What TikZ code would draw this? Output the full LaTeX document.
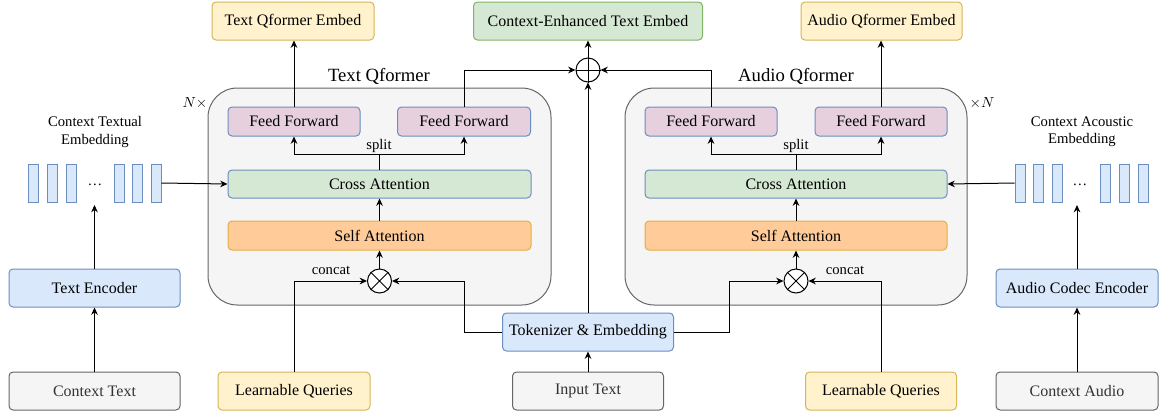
\documentclass[tikz,border=0pt]{standalone}
\usepackage{fontspec}
\setmainfont{Liberation Serif}
\usetikzlibrary{arrows.meta,calc}
\definecolor{blueF}{HTML}{DAE8FC}\definecolor{blueD}{HTML}{6C8EBF}
\definecolor{greenF}{HTML}{D5E8D4}\definecolor{greenD}{HTML}{82B366}
\definecolor{yelF}{HTML}{FFF2CC}\definecolor{yelD}{HTML}{D6B656}
\definecolor{orF}{HTML}{FFCC99}\definecolor{orD}{HTML}{E0B040}
\definecolor{pinkF}{HTML}{E6D0DE}
\definecolor{grayF}{HTML}{F5F5F5}\definecolor{grayD}{HTML}{666666}
\definecolor{grayT}{HTML}{333333}
\begin{document}
\begin{tikzpicture}[x=0.75pt,y=-0.75pt,
  box/.style={draw, rounded corners=3pt, line width=0.75pt, inner sep=0pt, align=center,
    font=\fontsize{12}{14}\selectfont},
  w/.style={minimum width=#1*0.75pt},
  h/.style={minimum height=#1*0.75pt},
  bluebox/.style={box, fill=blueF, draw=blueD},
  greenbox/.style={box, fill=greenF, draw=greenD},
  yelbox/.style={box, fill=yelF, draw=yelD},
  orbox/.style={box, fill=orF, draw=orD},
  pinkbox/.style={box, fill=pinkF, draw=blueD},
  ctxbox/.style={box, fill=grayF, draw=grayD, text=grayT},
  cabox/.style={box, fill=greenF, draw=blueD},
  container/.style={draw=grayD, fill=grayF, rounded corners=22pt, line width=0.75pt},
  bar/.style={draw=blueD, fill=blueF, line width=0.75pt, minimum width=10*0.75pt, minimum height=38*0.75pt, inner sep=0pt},
  opcirc/.style={circle, draw, fill=white, line width=0.75pt, minimum size=24*0.75pt, inner sep=0pt},
  arr/.style={draw, line width=0.75pt, -{Stealth[length=5.5pt,width=5pt,inset=1.8pt]}},
  ln/.style={draw, line width=0.75pt},
  lbl/.style={font=\fontsize{11}{13}\selectfont, align=center, inner sep=0pt},
  title/.style={font=\fontsize{14}{16}\selectfont, inner sep=0pt}
]
\useasboundingbox (0,0) rectangle (1161,412);

% containers
\draw[container] (208,88) rectangle (551,305);
\draw[container] (625,88) rectangle (967,305);
\node[title] (tqt) at (379,76) {Text Qformer};
\node[title] (aqt) at (796,76) {Audio Qformer};
\node[lbl] (tn) at (195,103) {$N\times$};
\node[lbl] (an) at (982,103) {$\times N$};

% top outputs
\node[yelbox, w=162, h=38] (tqe) at (293,21) {Text Qformer Embed};
\node[greenbox, w=229, h=38] (ce) at (588,21) {Context-Enhanced Text Embed};
\node[yelbox, w=161, h=38] (aqe) at (881.5,21) {Audio Qformer Embed};

% text qformer internals
\node[pinkbox, w=132, h=29] (tff1) at (294,121.5) {Feed Forward};
\node[pinkbox, w=133, h=29] (tff2) at (464,121.5) {Feed Forward};
\node[cabox, w=303, h=28] (tca) at (379.5,184) {Cross Attention};
\node[orbox, w=303, h=29] (tsa) at (379.5,235.5) {Self Attention};
\node[opcirc] (tc) at (379.5,281) {};
\draw[line width=0.75pt] (tc.north west) -- (tc.south east) (tc.north east) -- (tc.south west);

% audio qformer internals
\node[pinkbox, w=132, h=29] (aff1) at (711,121.5) {Feed Forward};
\node[pinkbox, w=132, h=29] (aff2) at (881,121.5) {Feed Forward};
\node[cabox, w=302, h=28] (aca) at (796,184) {Cross Attention};
\node[orbox, w=302, h=29] (asa) at (796,235.5) {Self Attention};
\node[opcirc] (ac) at (796,281) {};
\draw[line width=0.75pt] (ac.north west) -- (ac.south east) (ac.north east) -- (ac.south west);

% oplus
\node[opcirc] (op) at (588,70) {};
\draw[line width=0.75pt] (op.north) -- (op.south) (op.west) -- (op.east);

% bottom inputs
\node[bluebox, w=171, h=38] (tok) at (588,332) {Tokenizer \& Embedding};
\node[yelbox, w=152, h=38] (lq1) at (294,391) {Learnable Queries};
\node[yelbox, w=151, h=38] (lq2) at (881,391) {Learnable Queries};
\node[ctxbox, w=151, h=38] (it) at (588,391) {Input Text};
\node[ctxbox, w=171, h=38] (ct) at (94.5,391) {Context Text};
\node[bluebox, w=171, h=38] (te) at (94.5,288) {Text Encoder};
\node[ctxbox, w=162, h=38] (ca) at (1077,391) {Context Audio};
\node[bluebox, w=162, h=38] (ace) at (1077,288) {Audio Codec Encoder};

% embedding bars
\foreach \x [count=\i] in {33,52,71,119,137,156} \node[bar] (lb\i) at (\x,183) {};
\node[lbl] (ld) at (95,185) {\dots};
\node[lbl] (llab) at (95,132) {Context Textual\\Embedding};
\foreach \x [count=\i] in {1020,1038,1057,1105,1124,1143} \node[bar] (rb\i) at (\x,183) {};
\node[lbl] (rd) at (1080,185) {\dots};
\node[lbl] (rlab) at (1082,132) {Context Acoustic\\Embedding};
\coordinate (lin) at (95,205);
\coordinate (rin) at (1080,205);

% labels
\node[lbl] (tsp) at (379,146) {split};
\node[lbl] (asp) at (796,146) {split};
\node[lbl] (tcc) at (331,270) {concat};
\node[lbl] (acc) at (845,270) {concat};

% connectors left column
\draw[arr] (ct.north) -- (te.south);
\draw[arr] (te.north) -- (te.north |- lin);
\draw[arr] (lb6.east) -- (tca.west);
\draw[arr] (ca.north) -- (ace.south);
\draw[arr] (ace.north) -- (ace.north |- rin);
\draw[arr] (rb1.west) -- (aca.east);

% text qformer flow
\draw[arr] (lq1.north) |- (tc.west);
\draw[arr] (tok.west) -- ++(-38,0) |- (tc.east);
\draw[arr] (tc.north) -- (tsa.south);
\draw[arr] (tsa.north) -- (tca.south);
\draw[ln] (tca.north) -- ++(0,-15) coordinate (tj);
\draw[arr] (tj) -| (tff1.south);
\draw[arr] (tj) -| (tff2.south);
\draw[arr] (tff1.north) -- (tqe.south -| tff1.north);
\draw[arr] (tff2.north) |- (op.west);

% audio qformer flow
\draw[arr] (lq2.north) |- (ac.east);
\draw[arr] (tok.east) -- ++(55,0) |- (ac.west);
\draw[arr] (ac.north) -- (asa.south);
\draw[arr] (asa.north) -- (aca.south);
\draw[ln] (aca.north) -- ++(0,-15) coordinate (aj);
\draw[arr] (aj) -| (aff1.south);
\draw[arr] (aj) -| (aff2.south);
\draw[arr] (aff2.north) -- (aqe.south -| aff2.north);
\draw[arr] (aff1.north) |- (op.east);

% centre
\draw[arr] (it.north) -- (tok.south);
\draw[arr] (tok.north) -- (op.south);
\draw[arr] (op.north) -- (ce.south);
\end{tikzpicture}
\end{document}
